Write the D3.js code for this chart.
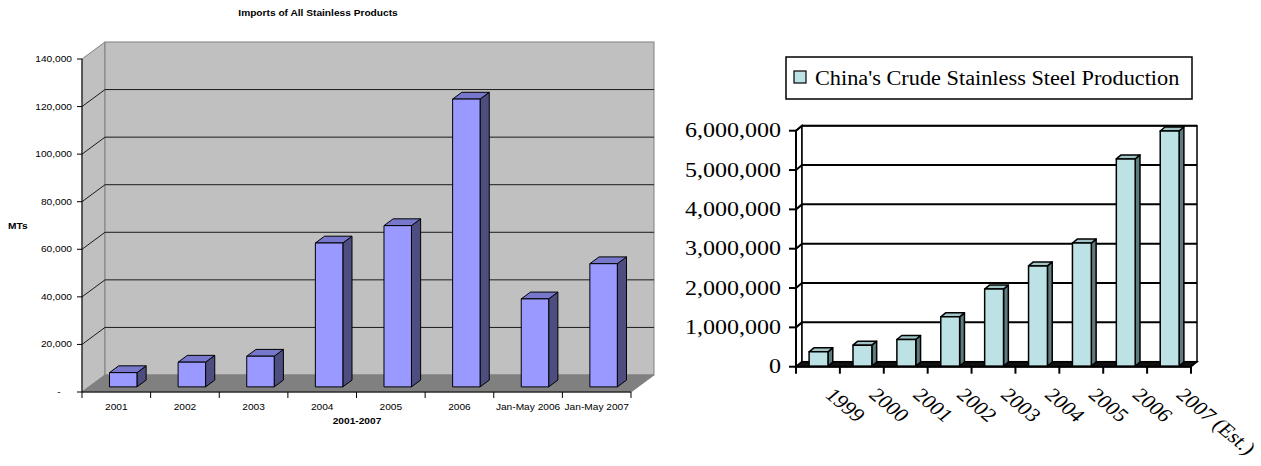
<!DOCTYPE html>
<html>
<head>
<meta charset="utf-8">
<script src="https://cdn.jsdelivr.net/npm/d3@7"></script>
<style>
  html, body { margin: 0; padding: 0; background: #fff; }
  svg { display: block; }
</style>
</head>
<body>
<svg id="chart" width="1261" height="466"></svg>
<script>
// ---- Imports of All Stainless Products (MTs) ----
const importCategories = ["2001", "2002", "2003", "2004", "2005", "2006", "Jan-May 2006", "Jan-May 2007"];
const importValues = [6000, 10400, 12900, 60500, 67800, 121000, 37000, 51800];
const importTicks = [0, 20000, 40000, 60000, 80000, 100000, 120000, 140000];

// ---- China's Crude Stainless Steel Production ----
const productionCategories = ["1999", "2000", "2001", "2002", "2003", "2004", "2005", "2006", "2007 (Est.)"];
const productionValues = [365000, 535000, 680000, 1255000, 1960000, 2550000, 3130000, 5270000, 5980000];
const productionTicks = [0, 1000000, 2000000, 3000000, 4000000, 5000000, 6000000];

const svg = d3.select("#chart");

// text helper: horizontally widened glyphs, as in the original rendering
function addText(g, x, y, str, sx, attrs, rot) {
  const t = g.append("text")
    .attr("transform", `translate(${x},${y}) scale(${sx},1)` + (rot ? ` rotate(${rot})` : ""))
    .text(str);
  Object.entries(attrs || {}).forEach(([k, v]) => t.attr(k, v));
  return t;
}

// generic 3D column chart pieces
function draw3DBars(g, cats, vals, x, y, depth, face, colors, strokeW) {
  const [DX, DY] = depth;
  const [f1, f2] = face.depth;
  const P = (px, v, f) => [px + f * DX, y(v) + f * DY];
  const bw = x.bandwidth();
  const fw = bw * face.width;
  cats.forEach((c, i) => {
    const v = vals[i];
    const xl = x(c) + (bw - fw) / 2, xr = xl + fw;
    const bar = g.append("g").attr("stroke", "#000").attr("stroke-width", strokeW).attr("stroke-linejoin", "round");
    bar.append("polygon").attr("fill", colors.side)
      .attr("points", [P(xr, 0, f1), P(xr, 0, f2), P(xr, v, f2), P(xr, v, f1)].join(" "));
    bar.append("polygon").attr("fill", colors.top)
      .attr("points", [P(xl, v, f1), P(xr, v, f1), P(xr, v, f2), P(xl, v, f2)].join(" "));
    bar.append("polygon").attr("fill", colors.front)
      .attr("points", [P(xl, 0, f1), P(xr, 0, f1), P(xr, v, f1), P(xl, v, f1)].join(" "));
  });
}

// ================= Left chart =================
(function () {
  const g = svg.append("g");
  const SX = 1.13;
  const font = "'Liberation Sans', Arial, sans-serif";
  const x0 = 82, x1 = 631;
  const DX = 23, DY = -17;
  const yMax = d3.max(importTicks);
  const y = d3.scaleLinear().domain([0, yMax]).range([392, 59]);
  const x = d3.scaleBand().domain(importCategories).range([x0, x1]).padding(0);

  // side wall
  g.append("polygon")
    .attr("points", [[x0, y(0)], [x0, y(yMax)], [x0 + DX, y(yMax) + DY], [x0 + DX, y(0) + DY]].join(" "))
    .attr("fill", "#c0c0c0").attr("stroke", "#808080");
  // back wall
  g.append("rect")
    .attr("x", x0 + DX).attr("y", y(yMax) + DY)
    .attr("width", x1 - x0).attr("height", y(0) - y(yMax))
    .attr("fill", "#c0c0c0").attr("stroke", "#808080");
  // floor
  g.append("polygon")
    .attr("points", [[x0, y(0)], [x1, y(0)], [x1 + DX, y(0) + DY], [x0 + DX, y(0) + DY]].join(" "))
    .attr("fill", "#808080").attr("stroke", "#808080");

  // gridlines on side and back walls
  importTicks.filter(v => v > 0 && v < yMax).forEach(v => {
    g.append("polyline")
      .attr("points", [[x0, y(v)], [x0 + DX, y(v) + DY], [x1 + DX, y(v) + DY]].join(" "))
      .attr("fill", "none").attr("stroke", "#1a1a1a").attr("stroke-width", 1);
  });

  draw3DBars(g, importCategories, importValues, x, y, [DX, DY],
    { depth: [0.3, 0.7], width: 0.4 },
    { front: "#9999ff", top: "#7777cc", side: "#4d4d80" }, 1);

  // value axis
  g.append("line").attr("x1", x0).attr("x2", x0).attr("y1", y(yMax)).attr("y2", y(0))
    .attr("stroke", "#000");
  const fmt = d3.format(",");
  importTicks.forEach(v => {
    g.append("line").attr("x1", x0 - 5).attr("x2", x0).attr("y1", y(v)).attr("y2", y(v)).attr("stroke", "#000");
    addText(g, x0 - 10, y(v) + 3, v === 0 ? "-\u2007\u2007" : fmt(v), SX,
      { "text-anchor": "end", "font-family": font, "font-size": 9, fill: "#000" });
  });

  // category axis
  g.append("line").attr("x1", x0).attr("x2", x1).attr("y1", y(0)).attr("y2", y(0)).attr("stroke", "#000");
  importCategories.concat([null]).forEach(c => {
    const px = c === null ? x1 : x(c);
    g.append("line").attr("x1", px).attr("x2", px).attr("y1", y(0)).attr("y2", y(0) + 6).attr("stroke", "#000");
  });
  importCategories.forEach(c => {
    addText(g, x(c) + x.bandwidth() / 2, 410, c, SX,
      { "text-anchor": "middle", "font-family": font, "font-size": 9, fill: "#000" });
  });

  // titles
  addText(g, 318, 15.5, "Imports of All Stainless Products", SX,
    { "text-anchor": "middle", "font-family": font, "font-size": 9, "font-weight": "bold", fill: "#000" });
  addText(g, 357, 423.5, "2001-2007", SX,
    { "text-anchor": "middle", "font-family": font, "font-size": 9, "font-weight": "bold", fill: "#000" });
  addText(g, 8, 229, "MTs", SX,
    { "text-anchor": "start", "font-family": font, "font-size": 9, "font-weight": "bold", fill: "#000" });
})();

// ================= Right chart =================
(function () {
  const g = svg.append("g");
  const SX = 1.2;
  const font = "'Liberation Serif', 'Times New Roman', serif";
  const x0 = 796, x1 = 1191;
  const DX = 6, DY = -5;
  const yMax = d3.max(productionTicks);
  const y = d3.scaleLinear().domain([0, yMax]).range([366.7, 130.7]);
  const x = d3.scaleBand().domain(productionCategories).range([x0, x1]).padding(0);
  const fill = "#bde2e5";

  // walls
  g.append("polygon")
    .attr("points", [[x0, y(0)], [x0, y(yMax)], [x0 + DX, y(yMax) + DY], [x0 + DX, y(0) + DY]].join(" "))
    .attr("fill", "#fff").attr("stroke", "#000").attr("stroke-width", 1.5);
  g.append("rect")
    .attr("x", x0 + DX).attr("y", y(yMax) + DY)
    .attr("width", x1 - x0).attr("height", y(0) - y(yMax))
    .attr("fill", "#fff").attr("stroke", "#000").attr("stroke-width", 1.5);

  // gridlines
  productionTicks.filter(v => v > 0).forEach(v => {
    g.append("polyline")
      .attr("points", [[x0, y(v)], [x0 + DX, y(v) + DY], [x1 + DX, y(v) + DY]].join(" "))
      .attr("fill", "none").attr("stroke", "#000").attr("stroke-width", 2);
  });

  // floor
  g.append("polygon")
    .attr("points", [[x0, y(0)], [x1, y(0)], [x1 + DX, y(0) + DY], [x0 + DX, y(0) + DY]].join(" "))
    .attr("fill", "#111").attr("stroke", "#000").attr("stroke-width", 1.5);

  draw3DBars(g, productionCategories, productionValues, x, y, [DX, DY],
    { depth: [0.1, 0.9], width: 0.43 },
    { front: fill, top: "#a1c4c6", side: "#5e7b7d" }, 1.5);

  // value axis
  g.append("line").attr("x1", x0).attr("x2", x0).attr("y1", y(yMax)).attr("y2", y(0))
    .attr("stroke", "#000").attr("stroke-width", 2);
  const fmt = d3.format(",");
  productionTicks.forEach(v => {
    g.append("line").attr("x1", x0 - 7).attr("x2", x0).attr("y1", y(v)).attr("y2", y(v))
      .attr("stroke", "#000").attr("stroke-width", 2);
    addText(g, x0 - 15, y(v) + 6.6, fmt(v), SX,
      { "text-anchor": "end", "font-family": font, "font-size": 20, fill: "#000" });
  });

  // category axis
  g.append("line").attr("x1", x0).attr("x2", x1).attr("y1", y(0)).attr("y2", y(0))
    .attr("stroke", "#000").attr("stroke-width", 2);
  productionCategories.concat([null]).forEach(c => {
    const px = c === null ? x1 : x(c);
    g.append("line").attr("x1", px).attr("x2", px).attr("y1", y(0)).attr("y2", y(0) + 7)
      .attr("stroke", "#000").attr("stroke-width", 2);
  });
  productionCategories.forEach(c => {
    addText(g, x(c) + x.bandwidth() / 2 + 6, 396, c, SX,
      { "text-anchor": "start", "font-family": font, "font-size": 19, fill: "#000" }, 45);
  });

  // legend
  const lg = g.append("g");
  lg.append("rect").attr("x", 786).attr("y", 57).attr("width", 406).attr("height", 42)
    .attr("fill", "#fff").attr("stroke", "#000").attr("stroke-width", 1.5);
  lg.append("rect").attr("x", 794).attr("y", 71).attr("width", 12).attr("height", 12)
    .attr("fill", fill).attr("stroke", "#000").attr("stroke-width", 1.2);
  addText(lg, 815, 84.5, "China's Crude Stainless Steel Production", 1.115,
    { "text-anchor": "start", "font-family": font, "font-size": 20, fill: "#000" });
})();
</script>
</body>
</html>
